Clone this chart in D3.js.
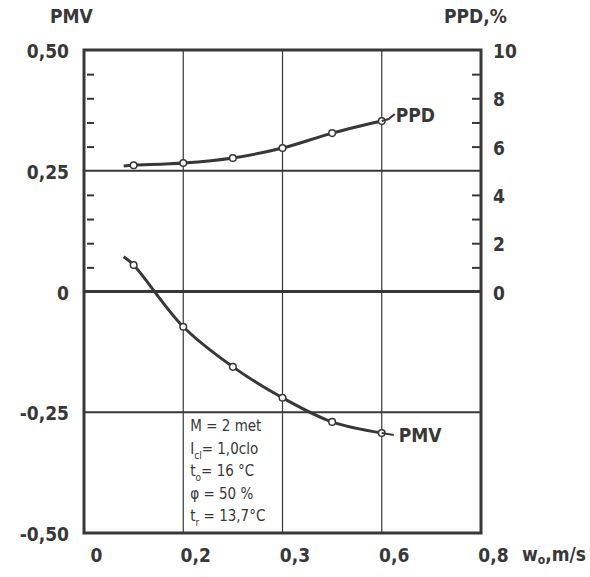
<!DOCTYPE html>
<html>
<head>
<meta charset="utf-8">
<script src="https://cdn.jsdelivr.net/npm/d3@7"></script>
<style>
  body { margin: 0; background: #fff; }
  text { font-family: "DejaVu Sans Condensed", "Liberation Sans Narrow", sans-serif; fill: #383838; }
</style>
</head>
<body>
<div id="chart"></div>
<script>
// air speed w_o, m/s (first entry is where the drawn curve starts, no marker)
const speeds = [0.08, 0.1, 0.2, 0.3, 0.4, 0.5, 0.6];
const pmvValues = [0.072, 0.055, -0.073, -0.156, -0.22, -0.27, -0.293];
const ppdValues = [5.2, 5.23, 5.32, 5.53, 5.94, 6.56, 7.06];

const xTicks = [0, 0.2, 0.4, 0.6, 0.8];
const xTickLabels = ["0", "0,2", "0,3", "0,6", "0,8"];
const pmvTicks = [-0.5, -0.25, 0, 0.25, 0.5];
const pmvTickLabels = ["-0,50", "-0,25", "0", "0,25", "0,50"];
const pmvMinor = [0.05, 0.1, 0.15, 0.2, 0.3, 0.35, 0.4, 0.45];
const ppdTicks = [0, 2, 4, 6, 8, 10];
const ppdMinor = [1, 2, 3, 4, 6, 7, 8, 9];

const conditions = [
    { main: "M = 2 met" },
    { main: "I", sub: "cl", rest: "= 1,0clo" },
    { main: "t", sub: "o", rest: "= 16 °C" },
    { main: "φ = 50 %" },
    { main: "t", sub: "r", rest: " = 13,7°C" }
];

const width = 590, height = 577;
const margin = { top: 50, right: 109, bottom: 44, left: 84 };
const ink = "#383838";

const x = d3.scaleLinear([0, 0.8], [margin.left, width - margin.right]);
const yPmv = d3.scaleLinear([-0.5, 0.5], [height - margin.bottom, margin.top]);
const yPpd = d3.scaleLinear([0, 10], [yPmv(0), margin.top]);

const svg = d3.select("#chart").append("svg")
    .attr("width", width)
    .attr("height", height)
    .attr("viewBox", [0, 0, width, height]);

// grid
svg.append("g")
    .attr("stroke", ink)
    .attr("stroke-width", 1.2)
  .selectAll("line")
  .data([0.2, 0.4, 0.6])
  .join("line")
    .attr("x1", d => x(d)).attr("x2", d => x(d))
    .attr("y1", yPmv(0.5)).attr("y2", yPmv(-0.5));

svg.append("g")
    .attr("stroke", ink)
  .selectAll("line")
  .data([0.25, 0, -0.25])
  .join("line")
    .attr("stroke-width", d => d === 0 ? 3 : 1.8)
    .attr("x1", x(0)).attr("x2", x(0.8))
    .attr("y1", d => yPmv(d)).attr("y2", d => yPmv(d));

// left axis: inner minor ticks and labels
svg.append("g")
    .attr("transform", `translate(${x(0)},0)`)
    .call(d3.axisRight(yPmv).tickValues(pmvMinor).tickSize(8).tickFormat(""))
    .call(g => g.select(".domain").remove())
    .call(g => g.selectAll(".tick line").attr("stroke", ink).attr("stroke-width", 2).attr("x1", 3).attr("x2", 10));

svg.append("g")
    .attr("transform", `translate(${x(0)},0)`)
    .call(d3.axisLeft(yPmv).tickValues(pmvTicks).tickSize(0).tickPadding(15)
        .tickFormat((d, i) => pmvTickLabels[i]))
    .call(g => g.select(".domain").remove())
    .call(g => g.selectAll(".tick text")
        .attr("font-size", 19).attr("font-weight", "bold").attr("fill", ink)
        .attr("font-family", null).attr("dy", "0.4em"));

// right axis
svg.append("g")
    .attr("transform", `translate(${x(0.8)},0)`)
    .call(d3.axisLeft(yPpd).tickValues(ppdMinor).tickSize(9).tickFormat(""))
    .call(g => g.select(".domain").remove())
    .call(g => g.selectAll(".tick line").attr("stroke", ink).attr("stroke-width", 2));

svg.append("g")
    .attr("transform", `translate(${x(0.8)},0)`)
    .call(d3.axisRight(yPpd).tickValues(ppdTicks).tickSize(0).tickPadding(12))
    .call(g => g.select(".domain").remove())
    .call(g => g.selectAll(".tick text")
        .attr("font-size", 19).attr("font-weight", "bold").attr("fill", ink)
        .attr("font-family", null).attr("dy", "0.4em"));

// bottom axis labels
svg.append("g")
    .attr("transform", `translate(0,${yPmv(-0.5)})`)
    .call(d3.axisBottom(x).tickValues(xTicks).tickSize(0).tickPadding(16)
        .tickFormat((d, i) => xTickLabels[i]))
    .call(g => g.select(".domain").remove())
    .call(g => g.selectAll(".tick text")
        .attr("font-size", 19).attr("font-weight", "bold").attr("fill", ink)
        .attr("font-family", null).attr("dx", 12));

// frame
svg.append("rect")
    .attr("x", x(0)).attr("y", yPmv(0.5))
    .attr("width", x(0.8) - x(0)).attr("height", yPmv(-0.5) - yPmv(0.5))
    .attr("fill", "none").attr("stroke", ink).attr("stroke-width", 3);

// curves
const pmvData = speeds.map((s, i) => ({ x: s, y: pmvValues[i] }));
const ppdData = speeds.map((s, i) => ({ x: s, y: ppdValues[i] }));

const curve = (data, yScale) => d3.line()
    .x(d => x(d.x)).y(d => yScale(d.y))
    .curve(d3.curveCatmullRom.alpha(0.5))(data);

svg.append("path").attr("d", curve(pmvData, yPmv))
    .attr("fill", "none").attr("stroke", ink).attr("stroke-width", 3);
svg.append("path").attr("d", curve(ppdData, yPpd))
    .attr("fill", "none").attr("stroke", ink).attr("stroke-width", 3);

svg.append("g").selectAll("circle")
  .data(pmvData.slice(1).map(d => [x(d.x), yPmv(d.y)])
      .concat(ppdData.slice(1).map(d => [x(d.x), yPpd(d.y)])))
  .join("circle")
    .attr("cx", d => d[0]).attr("cy", d => d[1]).attr("r", 3.3)
    .attr("fill", "#fff").attr("stroke", ink).attr("stroke-width", 1.5);

// curve labels with leaders
const lastPmv = pmvData[pmvData.length - 1], lastPpd = ppdData[ppdData.length - 1];
svg.append("path")
    .attr("d", `M${x(lastPpd.x)},${yPpd(lastPpd.y)}l7,-2l6,-5`)
    .attr("fill", "none").attr("stroke", ink).attr("stroke-width", 2);
svg.append("text").attr("x", x(lastPpd.x) + 14).attr("y", yPpd(lastPpd.y) + 1)
    .attr("font-size", 19).attr("font-weight", "bold").text("PPD");
svg.append("path")
    .attr("d", `M${x(lastPmv.x)},${yPmv(lastPmv.y)}l12,2`)
    .attr("fill", "none").attr("stroke", ink).attr("stroke-width", 2);
svg.append("text").attr("x", x(lastPmv.x) + 17).attr("y", yPmv(lastPmv.y) + 9)
    .attr("font-size", 19).attr("font-weight", "bold").text("PMV");

// axis titles
svg.append("text").attr("x", 50).attr("y", 23)
    .attr("font-size", 19).attr("font-weight", "bold").text("PMV");
svg.append("text").attr("x", 444).attr("y", 23)
    .attr("font-size", 19).attr("font-weight", "bold").text("PPD,%");
const wLabel = svg.append("text").attr("x", 522).attr("y", 561)
    .attr("font-size", 19).attr("font-weight", "bold");
wLabel.append("tspan").text("w");
wLabel.append("tspan").attr("font-size", 12).attr("dy", 3).text("o");
wLabel.append("tspan").attr("dy", -3).text(",m/s");

// conditions box between the 0.2 and 0.4 gridlines
const box = svg.append("g")
    .attr("font-size", 15);
conditions.forEach((c, i) => {
    const t = box.append("text")
        .attr("x", x(0.2) + 7)
        .attr("y", yPmv(-0.25) + 19 + i * 22.5);
    t.append("tspan").text(c.main);
    if (c.sub) {
        t.append("tspan").attr("font-size", 10).attr("dy", 5).text(c.sub);
        t.append("tspan").attr("dy", -5).text(c.rest);
    }
});
</script>
</body>
</html>
